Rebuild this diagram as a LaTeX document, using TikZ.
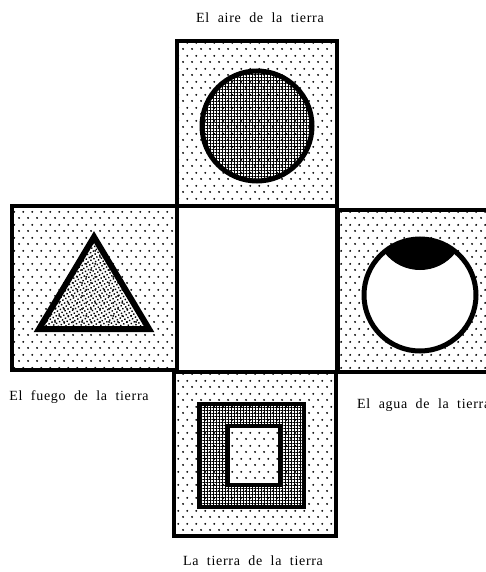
\documentclass[tikz,border=0pt]{standalone}
\usepackage{fontspec}
\setmainfont{Liberation Serif}
\newfontfamily\capfont[LetterSpace=5,WordSpace=2]{Liberation Serif}
\usetikzlibrary{patterns,patterns.meta}
\pgfdeclarepatternformonly{paper dots}{\pgfpointorigin}{\pgfpoint{8.6pt}{13pt}}{\pgfpoint{8.6pt}{13pt}}{%
  \pgfpathcircle{\pgfpoint{2.15pt}{3.25pt}}{1.1pt}%
  \pgfpathcircle{\pgfpoint{6.45pt}{9.75pt}}{1.1pt}%
  \pgfusepath{fill}}
\tikzset{
  face/.style={line width=4pt, pattern=paper dots},
  grid fill/.style={pattern={Hatch[distance=3pt,line width=0.9pt]}},
  fine dots/.style={pattern={Dots[distance=3.4pt,radius=1pt,angle=30]}},
  caption/.style={font=\capfont\fontsize{14}{16}\selectfont, inner sep=0pt}
}
\begin{document}
\begin{tikzpicture}[x=1pt,y=-1pt]
    \useasboundingbox (0,0) rectangle (486,572);
    \clip (0,0) rectangle (486,572);

    % Air (top)
    \draw[face] (177,41) rectangle (337,206);
    \draw[line width=5pt, grid fill] (257,126) circle (55);

    % Centre
    \draw[line width=4pt, fill=white] (177,206) rectangle (337,372);

    % Fire (left)
    \draw[face] (12,206) rectangle (177,370);
    \draw[line width=6pt, line join=miter, fine dots]
        (94,237) -- (149,329) -- (39,329) -- cycle;

    % Water (right)
    \draw[face] (338,210) rectangle (500,372);
    \fill[white] (420,295) circle (56);
    \begin{scope}
        \clip (420,295) circle (56);
        \fill (384,252) .. controls (402,276) and (438,276) .. (456,252)
            -- (470,220) -- (370,220) -- cycle;
    \end{scope}
    \draw[line width=5pt] (420,295) circle (56);

    % Earth (bottom)
    \draw[face] (174,372) rectangle (336,536);
    \draw[line width=4pt, grid fill, even odd rule]
        (199,404) rectangle (304,507) (228,426) rectangle (280,485);
    \draw[line width=4pt] (228,426) rectangle (280,485);

    % Captions
    \node[caption] (aire) at (260,18) {El aire de la tierra};
    \node[caption] (fuego) at (79,397) {El fuego de la tierra};
    \node[caption, anchor=west] (agua) at (357,405) {El agua de la tierra};
    \node[caption] (tierra) at (253,561) {La tierra de la tierra};
\end{tikzpicture}
\end{document}
